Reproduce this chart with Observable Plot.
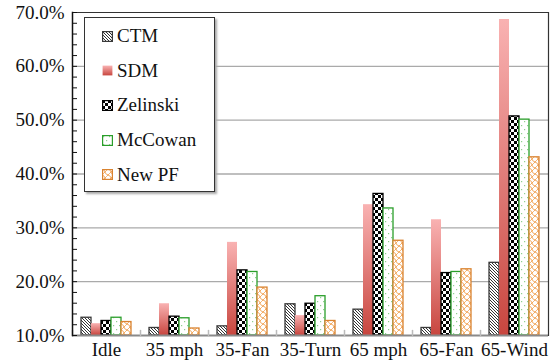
<!DOCTYPE html>
<html><head><meta charset="utf-8">
<script src="https://cdn.jsdelivr.net/npm/d3@7"></script>
<script src="https://cdn.jsdelivr.net/npm/@observablehq/plot@0.6"></script>
<style>
body{margin:0;background:#fff;}
#wrap{position:relative;width:556px;height:363px;font-family:"Liberation Serif","Times New Roman",serif;}
#wrap svg, #wrap svg text{font-family:"Liberation Serif","Times New Roman",serif !important;}
#defs{position:absolute;width:0;height:0;overflow:hidden;}
#legend{position:absolute;left:84px;top:17px;width:131px;height:175px;border:1px solid #333;background:#fff;box-shadow:2px 2px 2px #aaa;box-sizing:border-box;padding-top:1px;}
.item{display:flex;align-items:center;height:34.6px;padding-left:17px;font-size:19px;color:#111;}
.item svg{margin-right:4px;flex:none;}
</style></head>
<body>
<svg id="defs" width="0" height="0">
  <defs>
    <pattern id="p-ctm" patternUnits="userSpaceOnUse" width="3" height="3">
      <rect width="3" height="3" fill="#fff"/>
      <path d="M-1,-1L4,4M-1,2L1,4M2,-1L4,1" stroke="#333" stroke-width="1"/>
    </pattern>
    <linearGradient id="p-sdm" x1="0" y1="0" x2="0" y2="1">
      <stop offset="0" stop-color="#f9b2b2"/>
      <stop offset="1" stop-color="#c8463f"/>
    </linearGradient>
    <pattern id="p-zel" patternUnits="userSpaceOnUse" width="6" height="6">
      <rect width="6" height="6" fill="#fff"/>
      <rect width="3" height="3" fill="#000"/>
      <rect x="3" y="3" width="3" height="3" fill="#000"/>
    </pattern>
    <pattern id="p-mcc" patternUnits="userSpaceOnUse" width="6" height="8">
      <rect width="6" height="8" fill="#fff"/>
      <rect x="1" y="1" width="1.2" height="1.2" fill="#8fd08f"/>
      <rect x="4" y="5" width="1.2" height="1.2" fill="#8fd08f"/>
    </pattern>
    <pattern id="p-npf" patternUnits="userSpaceOnUse" width="6" height="6">
      <rect width="6" height="6" fill="#fff"/>
      <path d="M0,0Q3,1 3,3T6,6M6,0Q4,2 3,3M0,6Q2,4 3,3" stroke="#f0a050" stroke-width="0.9" fill="none"/>
    </pattern>
  </defs>
</svg>
<div id="wrap"><div id="legend"></div></div>
<script>
const groups = ["Idle", "35 mph", "35-Fan", "35-Turn", "65 mph", "65-Fan", "65-Wind"];
const series = ["CTM", "SDM", "Zelinski", "McCowan", "New PF"];
const ctm      = [13.3, 11.4, 11.7, 15.8, 14.8, 11.4, 23.5];
const sdm      = [12.2, 15.9, 27.3, 13.7, 34.3, 31.5, 68.7];
const zelinski = [12.7, 13.5, 22.1, 15.9, 36.3, 21.6, 50.7];
const mccowan  = [13.3, 13.2, 21.8, 17.3, 33.6, 21.8, 50.1];
const newpf    = [12.5, 11.3, 18.9, 12.7, 27.6, 22.3, 43.1];
const yTicks = [10, 20, 30, 40, 50, 60, 70];
const yMinorTicks = d3.range(10, 70.1, 2);
const yDomain = [10, 70];

const values = [ctm, sdm, zelinski, mccowan, newpf];
const styles = [
  {fill: "url(#p-ctm)", stroke: "#3a3a3a"},
  {fill: "url(#p-sdm)", stroke: "none"},
  {fill: "url(#p-zel)", stroke: "#000"},
  {fill: "url(#p-mcc)", stroke: "#2a9e2a"},
  {fill: "url(#p-npf)", stroke: "#d98330"}
];
const rows = [];
series.forEach((s, si) => groups.forEach((g, gi) => rows.push({group: g, series: s, value: values[si][gi]})));

const lineShape = {draw(context, l) { context.moveTo(0, 0); context.lineTo(0, -l); }};
const fontFamily = "Liberation Serif, Times New Roman, serif";

const barMarks = series.map((s, si) =>
  Plot.barY(rows.filter(d => d.series === s), {
    fx: "group", x: "series", y1: yDomain[0], y2: "value",
    fill: styles[si].fill, stroke: styles[si].stroke, strokeWidth: 1.3
  })
);

const chart = Plot.plot({
  width: 556, height: 363,
  marginLeft: 71, marginRight: 8, marginTop: 12, marginBottom: 28,
  style: {fontFamily, fontSize: "19px", color: "#111", background: "#fff"},
  fx: {domain: groups, padding: 0, label: null, axis: null},
  x: {domain: series, paddingInner: 0.05, paddingOuter: 0.73, axis: null},
  y: {domain: yDomain, label: null, axis: null},
  marks: [
    Plot.ruleY(yTicks.slice(1, -1), {stroke: "#aaa", strokeWidth: 1.3}),
    ...barMarks,
    Plot.ruleY([yDomain[0]], {stroke: "#8a8a8a", strokeWidth: 2}),
    Plot.ruleY([yDomain[1]], {stroke: "#333", strokeWidth: 1.2}),
    Plot.vector([0], {frameAnchor: "bottom-left", length: 5, rotate: 0, anchor: "start", shape: lineShape, stroke: "#bbb", strokeWidth: 1.5}),
    Plot.frame({anchor: "left", fx: () => groups[0], stroke: "#111", strokeWidth: 1.5}),
    Plot.frame({anchor: "right", fx: () => groups[groups.length - 1], stroke: "#333", strokeWidth: 1.2}),
    Plot.axisY({ticks: yTicks, tickSize: 0, tickPadding: 8, tickFormat: d => d.toFixed(1) + "%", fontSize: 19, fontFamily, label: null}),
    Plot.axisY({ticks: yMinorTicks, tickSize: -5, tickFormat: () => "", stroke: "#111", label: null}),
    Plot.axisFx({anchor: "bottom", tickSize: 0, tickPadding: 7, fontSize: 19, fontFamily, label: null})
  ]
});
document.getElementById("wrap").prepend(chart);

const legend = document.getElementById("legend");
series.forEach((s, si) => {
  const item = document.createElement("div");
  item.className = "item";
  const sw = styles[si];
  item.innerHTML = `<svg width="11" height="11"><rect x="0.6" y="0.6" width="9.8" height="9.8" fill="${sw.fill}" stroke="${sw.stroke}" stroke-width="1.2"/></svg><span>${s}</span>`;
  legend.appendChild(item);
});
</script>
</body></html>
